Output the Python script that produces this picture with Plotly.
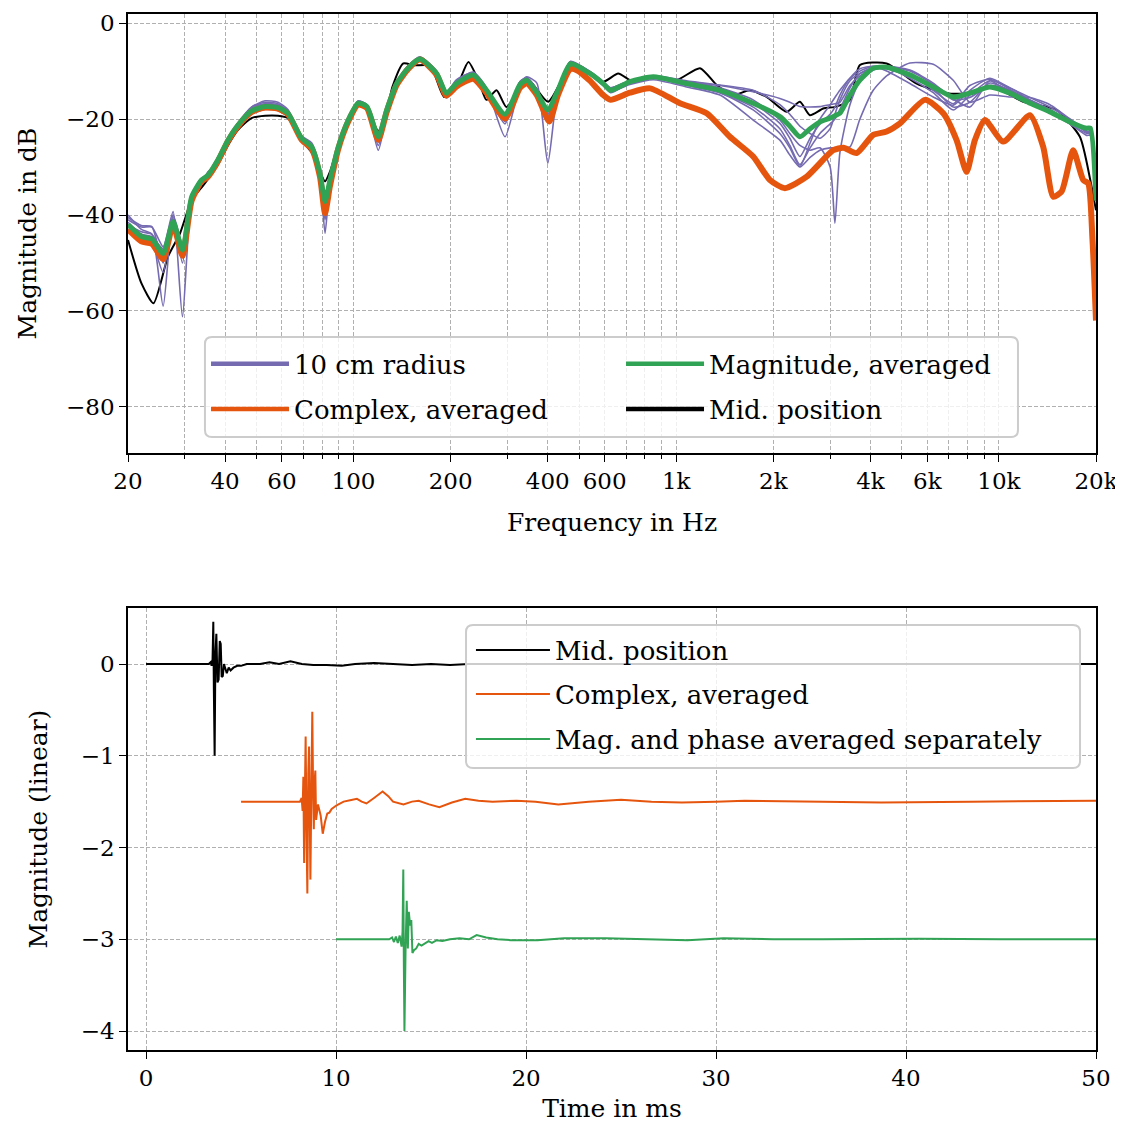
import math
import plotly.graph_objects as go

# ---------------- Top panel: frequency responses ----------------
freq_grid = [20, 22, 23.7, 25.7, 27.6, 29.5, 31.5, 33.8, 35.4, 38,
             40.8, 43.8, 48.3, 53.2, 58.3, 62.6, 69, 74.2, 78.7, 81.6,
             84.5, 89.7, 96.3, 103.4, 110, 119.3, 126.7, 136, 148, 160.7,
             181, 194, 208.6, 235, 258.6, 294.7, 328, 344, 370, 400,
             430, 470, 540, 594, 626, 719, 849, 1077, 1366, 1732,
             2096, 2250, 2418, 2600, 2789, 3000, 3104, 3216, 3455, 3710,
             4080, 4488, 5300, 6260, 7220, 8132, 9380, 10820, 12484, 14392,
             16600, 18700, 19200, 20000]

mag_avg_db = [-42, -44.5, -45, -48, -41.4, -47.3, -36.2, -32.7, -31.7, -28.5,
              -24.4, -21.3, -18.3, -17.4, -17.6, -18.8, -24, -25.8, -31.3, -37.2,
              -32.7, -25.8, -20.2, -16.7, -17.4, -23.7, -18.1, -12.6, -9.3, -7.5,
              -10.5, -14.6, -12.6, -10.8, -14, -19, -12.8, -11.9, -14.5, -18.1,
              -14, -8.5, -10.5, -12.6, -14, -12.2, -11.2, -12.6, -14, -16.7,
              -19.5, -21.5, -23.7, -22, -20.6, -19.8, -19.3, -18.8, -15, -11.9,
              -9.4, -9.2, -10.8, -13.3, -15.4, -14.6, -13.3, -14.6, -16.7, -18.5,
              -20.6, -21.9, -21.9, -37]

radius_1_db = [-40, -43, -44, -59, -40, -46, -36, -32.5, -31.5, -28,
               -24, -20.8, -17.5, -16.5, -16.8, -18.3, -23.8, -25.5, -31, -38.5,
               -33, -25.5, -20, -16.2, -17, -24.5, -18, -12.3, -9, -7.2,
               -10.3, -15, -12.2, -10.5, -14, -19.5, -12.3, -11.5, -14, -18.5,
               -13.5, -8.2, -10.2, -12.3, -13.5, -12, -11, -12, -13, -14.3,
               -15.7, -16.5, -17.4, -17.5, -17.4, -17, -16.8, -16.5, -13, -11,
               -9.5, -9, -9.8, -12.5, -15.8, -17.5, -12, -13.5, -16, -18,
               -20.5, -22.5, -22.8, -37]
radius_2_db = [-41, -42.5, -42.5, -46.6, -39.3, -61.2, -37, -33, -32, -28.8,
               -24.8, -21, -17.8, -16.8, -17, -18.5, -24, -25.8, -31.5, -40.5,
               -34, -26, -20.3, -16.5, -17.2, -25.5, -18.5, -12.8, -9.3, -7.3,
               -10.2, -14.8, -12.4, -10.6, -13.8, -20.5, -12.5, -11.6, -14.4, -19.5,
               -14.2, -8.3, -10.5, -13, -14.5, -12.5, -11.5, -13, -14.5, -18.1,
               -23, -26, -29.9, -25, -20, -17, -15.5, -14, -11.5, -10,
               -9, -9.3, -11.5, -14.5, -18.1, -15, -12, -14.5, -16.5, -18.7,
               -21, -23, -23, -37]
radius_3_db = [-43, -45.5, -46, -48, -42, -47.6, -36.5, -33, -32.5, -29,
               -25, -22, -19, -18, -18.2, -19.5, -24.6, -26.5, -32, -43.8,
               -33.5, -27, -20.8, -17, -17.8, -26.5, -19, -12.9, -9.3, -7.4,
               -10.6, -15.6, -12.8, -11, -14.3, -21, -12.6, -11.9, -14.8, -20.5,
               -14.5, -8.2, -10, -12.2, -13.5, -12, -11.2, -12.5, -14, -16.7,
               -20.9, -24, -27.8, -24, -21, -19, -17.5, -15, -11.5, -9.5,
               -9, -10, -12.6, -15.4, -17.1, -14, -11.5, -13.5, -15.5, -17.5,
               -20, -22, -22, -37]
radius_4_db = [-42, -43.5, -44, -47.5, -41, -48, -36, -32.5, -31.8, -28.5,
               -24.5, -21.5, -18.8, -17.8, -18, -19, -24.2, -26, -31.5, -39,
               -35, -26.5, -20.5, -16.9, -17.6, -24, -18.3, -12.7, -9.4, -7.5,
               -10.4, -14.3, -12, -10.2, -13.5, -23.7, -13, -11.2, -12.5, -29.2,
               -14, -8.3, -10.3, -12.5, -14, -12, -11, -12.3, -12.9, -14,
               -17, -19, -21.5, -23, -24, -22, -19, -16, -12, -10.5,
               -9.5, -9.5, -11, -13.5, -17.5, -16.5, -12.5, -14, -16, -18,
               -20.8, -22.5, -23.2, -37]
radius_5_db = [-41.5, -44, -44.5, -47, -41, -47, -36, -32.4, -31.4, -28.2,
               -24.2, -21, -17.8, -16.8, -17.2, -18.5, -23.8, -25.5, -31, -40.5,
               -33, -25.5, -20, -16.4, -17.2, -24.8, -18, -12.4, -9, -7.2,
               -10.4, -15.2, -12.4, -10.4, -13.8, -20, -12.2, -11.3, -13.8, -19,
               -14, -8, -10.2, -12.8, -14.3, -12.4, -11.4, -12.2, -13.5, -16,
               -20.2, -23, -25.5, -26.5, -26, -30, -41.7, -27, -17, -12,
               -9.8, -9, -10, -12.8, -16, -15.5, -13, -14, -16.2, -18.3,
               -20.3, -22, -22.5, -37]
radius_6_db = [-40.5, -42.2, -42.4, -50, -40, -48.5, -37, -33.5, -31, -29,
               -25, -21.3, -17.5, -16.2, -16.5, -18, -23.5, -25, -30.5, -37,
               -33.5, -25.8, -20, -16.3, -17, -23.5, -17.8, -12.2, -8.8, -7,
               -10, -14.5, -11.8, -10.3, -13.7, -19.2, -12.2, -11.5, -14, -18,
               -13.5, -8, -10.8, -13, -14.2, -12.8, -11.8, -13.3, -15, -20.2,
               -24.4, -27.5, -30, -28, -26.5, -26, -26, -26, -25.8, -20,
               -14, -11, -8.3, -8.6, -11.9, -16.5, -15, -15.4, -15.5, -17,
               -20, -22.8, -23, -37]
radius_7_db = [-42.5, -44, -45.5, -52, -40.5, -50, -36.5, -33, -32, -28.7,
               -24.5, -21.5, -18.5, -17.5, -17.7, -19, -24, -26, -31.5, -41,
               -35, -26, -20.3, -16.7, -17.5, -24.2, -18.2, -12.6, -9.2, -7.4,
               -10.6, -14.9, -12.7, -11, -14.2, -19.5, -13, -12.2, -14.6, -19,
               -14.2, -8.6, -10.6, -12.5, -13.8, -12.2, -11.3, -12.8, -14.5, -17.5,
               -22, -25.5, -29.5, -26, -23, -21, -20, -18, -13.5, -10.5,
               -9.2, -9.1, -10.5, -14, -16.8, -13, -11.7, -13.8, -16.5, -18.4,
               -21, -23.4, -23.4, -37]

freq_mid = [20, 22, 24, 26.6, 29, 31.5, 34.6, 38, 40.8, 43.8,
            48.3, 53.2, 58.3, 62.6, 69, 74.2, 78.7, 81.6, 84.5, 89.7,
            96.3, 103.4, 110, 119.3, 126.7, 132, 142.7, 154, 173, 191,
            208.6, 227, 246, 258, 277.6, 298, 344, 401, 478, 594,
            661, 736, 849, 1001, 1185, 1335, 1502, 1692, 1906, 2199,
            2418, 2596, 2856, 3135, 3455, 3710, 4488, 5560, 6887, 7943,
            9604, 11900, 15100, 17825, 19200, 20000]
mid_db = [-45.2, -54.2, -58.4, -48.7, -43.8, -36.9, -33.4, -29.5, -25.5, -22.3,
          -19.8, -19.3, -19.3, -19.8, -24.5, -27, -31, -33, -31, -25.5,
          -20.5, -16.8, -17.8, -22.5, -18.5, -13.3, -8.4, -8.8, -8.9, -15.4,
          -13.3, -8.1, -12.6, -16, -14, -17.5, -11.5, -16.4, -8.4, -12.2,
          -10.5, -12.2, -11.2, -11.9, -9.4, -12.9, -15, -14, -15.4, -18.5,
          -16.4, -19.2, -17.8, -17.4, -16, -8.75, -8.4, -12.6, -14.6, -14.6,
          -13.3, -16.4, -18.1, -23.7, -32.7, -39]

freq_cplx = [20, 22, 23.7, 25.7, 27.6, 29.5, 31.5, 33.8, 35.4, 38,
             40.8, 43.8, 48.3, 53.2, 58.3, 62.6, 69, 74.2, 78.7, 81.6,
             84.5, 89.7, 96.3, 103.4, 110, 119.3, 126.7, 136, 148, 160.7,
             181, 194, 208.6, 235, 258.6, 294.7, 328, 344, 370, 404,
             430, 470, 492, 540, 594, 626, 719, 830, 1027, 1243,
             1467, 1732, 1952, 2172, 2538, 3066, 3300, 3624, 4080, 4488,
             4938, 5900, 6724, 7396, 7943, 8428, 9052, 10316, 12484, 13722,
             14742, 15650, 16996, 18254, 18916, 19500, 20000]
cplx_db = [-43, -45.5, -46, -49.2, -42, -48.5, -37, -33, -32, -28.8,
           -24.6, -21.5, -18.5, -17.6, -17.8, -19, -24.3, -26.2, -32, -39.6,
           -34, -26.2, -20.5, -17, -17.7, -24.3, -18.5, -12.9, -9.5, -7.6,
           -10.8, -15.1, -13.2, -11.6, -14.6, -19.9, -13.5, -12.5, -15, -20.5,
           -15, -9.6, -9.8, -12, -15, -16, -14.5, -13.6, -16.7, -18.8,
           -23.7, -27.8, -32.7, -34.4, -32, -26.5, -26, -27.1, -23.3, -22.6,
           -20.9, -16, -18.8, -24.4, -31, -24.4, -20.2, -24.7, -19.2, -25.8,
           -36.2, -35.1, -26.5, -32.7, -33.4, -45, -62]

freq_ticks = [20, 40, 60, 100, 200, 400, 600, 1000, 2000, 4000, 6000, 10000, 20000]
freq_labels = ["20", "40", "60", "100", "200", "400", "600", "1k", "2k", "4k", "6k", "10k", "20k"]
freq_minor = [30, 50, 70, 80, 90, 300, 500, 700, 800, 900,
              3000, 5000, 7000, 8000, 9000]
db_ticks = [0, -20, -40, -60, -80]
db_labels = ["0", "\u221220", "\u221240", "\u221260", "\u221280"]

# ---------------- Bottom panel: impulse responses ----------------
t_mid = [0, 3.3, 3.4, 3.45, 3.5, 3.54, 3.57, 3.61, 3.65, 3.7,
         3.76, 3.82, 3.88, 3.93, 3.98, 4.04, 4.1, 4.16, 4.25, 4.35,
         4.45, 4.6, 4.8, 5.0, 5.3, 6.0, 6.5, 7.0, 7.6, 8.2,
         8.8, 9.5, 10.3, 11, 12, 13, 14, 15, 16, 17,
         20, 30, 40, 50]
ir_mid = [0, 0, 0.02, -0.02, 0.05, 0.46, -0.3, -1.0, 0.1, 0.33,
          -0.2, -0.17, 0.25, 0.22, -0.14, -0.13, 0.0, -0.04, -0.1, -0.04,
          -0.07, -0.04, -0.02, -0.02, 0.0, 0.0, 0.02, 0.0, 0.03, 0.0,
          -0.01, -0.01, -0.02, 0.0, 0.01, 0.0, -0.01, 0.0, -0.01, 0.0,
          0.0, 0.0, 0.0, 0.0]

t_cplx = [5, 8.1, 8.19, 8.24, 8.28, 8.32, 8.36, 8.4, 8.45, 8.49,
          8.54, 8.58, 8.62, 8.65, 8.7, 8.75, 8.79, 8.83, 8.87, 8.91,
          8.95, 8.98, 9.05, 9.19, 9.3, 9.42, 9.54, 9.65, 9.77, 10.03,
          10.4, 10.74, 11.1, 11.35, 11.6, 12.0, 12.45, 12.75, 13.0, 13.55,
          14.0, 14.35, 14.9, 15.44, 16.1, 16.8, 17.5, 18.24, 19.5, 20.5,
          21.7, 23.3, 25, 26.6, 28.2, 30, 31.5, 35.6, 38.7, 43.4,
          50]
ir_cplx = [-1.5, -1.5, -1.46, -1.6, -1.23, -2.17, -1.4, -0.79, -1.9, -2.5,
           -1.2, -0.9, -1.7, -2.35, -1.4, -0.52, -1.3, -1.8, -1.3, -1.16,
           -1.7, -1.62, -1.53, -1.65, -1.85, -1.72, -1.63, -1.62, -1.58, -1.54,
           -1.5, -1.485, -1.47, -1.5, -1.52, -1.46, -1.39, -1.44, -1.5, -1.53,
           -1.5, -1.49, -1.53, -1.56, -1.51, -1.47, -1.49, -1.5, -1.49, -1.5,
           -1.53, -1.5, -1.48, -1.5, -1.51, -1.5, -1.49, -1.5, -1.51, -1.5,
           -1.49]

t_sep = [10, 12.8, 12.95, 13.05, 13.15, 13.25, 13.35, 13.45, 13.5, 13.54,
         13.57, 13.6, 13.66, 13.72, 13.78, 13.83, 13.9, 13.96, 14.02, 14.1,
         14.22, 14.35, 14.5, 14.7, 14.87, 15.05, 15.3, 15.6, 16, 16.5,
         17, 17.4, 17.9, 18.5, 19.2, 20.6, 22, 24.2, 26.5, 28.5,
         30.4, 33, 35.6, 40.7, 45, 50]
ir_sep = [-3, -3, -2.98, -3.03, -2.97, -3.04, -2.96, -3.08, -2.92, -2.24,
          -3.3, -4.0, -3.1, -2.58, -3.1, -2.7, -2.85, -2.79, -3.15, -3.12,
          -3.1, -3.05, -3.07, -3.04, -3.02, -3.04, -3.01, -3.02, -3.0, -2.99,
          -3.0, -2.955, -2.98, -3.0, -3.01, -3.01, -2.99, -2.99, -3.0, -3.01,
          -2.99, -3.0, -3.0, -2.995, -3.0, -3.0]

time_ticks = [0, 10, 20, 30, 40, 50]
lin_ticks = [0, -1, -2, -3, -4]
lin_labels = ["0", "\u22121", "\u22122", "\u22123", "\u22124"]

# ---------------- Styling ----------------
PURPLE = "#756bb1"
ORANGE = "#e6550d"
GREEN = "#31a354"
BLACK = "#000000"
FONT = "DejaVu Serif"
TICK_SIZE = 23
TITLE_SIZE = 25
LEGEND_SIZE = 26
GRID = "#b0b0b0"
DASH = "4px,2px"

fig = go.Figure()

# top panel curves
fig.add_trace(go.Scatter(x=freq_mid, y=mid_db, mode="lines", xaxis="x", yaxis="y",
                         line=dict(color=BLACK, width=2, shape="spline", smoothing=0.6),
                         showlegend=False, hoverinfo="skip"))
for curve in [radius_1_db, radius_2_db, radius_3_db, radius_4_db,
              radius_5_db, radius_6_db, radius_7_db]:
    fig.add_trace(go.Scatter(x=freq_grid, y=curve, mode="lines", xaxis="x", yaxis="y",
                             line=dict(color=PURPLE, width=1.6, shape="spline", smoothing=0.6),
                             showlegend=False, hoverinfo="skip"))
fig.add_trace(go.Scatter(x=freq_cplx, y=cplx_db, mode="lines", xaxis="x", yaxis="y",
                         line=dict(color=ORANGE, width=6, shape="spline", smoothing=0.6),
                         showlegend=False, hoverinfo="skip"))
fig.add_trace(go.Scatter(x=freq_grid, y=mag_avg_db, mode="lines", xaxis="x", yaxis="y",
                         line=dict(color=GREEN, width=5, shape="spline", smoothing=0.6),
                         showlegend=False, hoverinfo="skip"))

# legend entries for the top panel (two rows, two columns)
for name, color, leg, rank in [("10 cm radius", PURPLE, "legend", 1),
                               ("Magnitude, averaged", GREEN, "legend", 2),
                               ("Complex, averaged", ORANGE, "legend2", 1),
                               ("Mid. position", BLACK, "legend2", 2)]:
    fig.add_trace(go.Scatter(x=[None], y=[None], mode="lines", xaxis="x", yaxis="y",
                             line=dict(color=color, width=4.5), name=name,
                             legend=leg, legendrank=rank))

# bottom panel curves
fig.add_trace(go.Scatter(x=t_mid, y=ir_mid, mode="lines", xaxis="x2", yaxis="y2",
                         line=dict(color=BLACK, width=2), name="Mid. position",
                         legend="legend3"))
fig.add_trace(go.Scatter(x=t_cplx, y=ir_cplx, mode="lines", xaxis="x2", yaxis="y2",
                         line=dict(color=ORANGE, width=2), name="Complex, averaged",
                         legend="legend4"))
fig.add_trace(go.Scatter(x=t_sep, y=ir_sep, mode="lines", xaxis="x2", yaxis="y2",
                         line=dict(color=GREEN, width=2), name="Mag. and phase averaged separately",
                         legend="legend5"))

axis_common = dict(showline=True, linecolor="black", linewidth=1.5, mirror=True,
                   ticks="outside", ticklen=7, tickwidth=1.3, tickcolor="black",
                   zeroline=False, showgrid=True, gridcolor=GRID, gridwidth=1, griddash=DASH,
                   automargin=False, ticklabeloverflow="allow",
                   tickfont=dict(family=FONT, size=TICK_SIZE, color="black"))


def legend_row(x, y, horizontal, itemwidth):
    d = dict(x=x, y=y, xanchor="left", yanchor="middle",
             bgcolor="rgba(0,0,0,0)", borderwidth=0, itemwidth=itemwidth,
             font=dict(family=FONT, size=LEGEND_SIZE, color="black"))
    if horizontal:
        d.update(orientation="h", entrywidth=322)
    return d


def rounded_box(x0, y0, x1, y1, r_px=7):
    rx = r_px / 968.0
    ry = r_px / 1036.0
    path = (f"M {x0 + rx},{y0} L {x1 - rx},{y0} Q {x1},{y0} {x1},{y0 + ry} "
            f"L {x1},{y1 - ry} Q {x1},{y1} {x1 - rx},{y1} L {x0 + rx},{y1} "
            f"Q {x0},{y1} {x0},{y1 - ry} L {x0},{y0 + ry} Q {x0},{y0} {x0 + rx},{y0} Z")
    return dict(type="path", path=path, xref="paper", yref="paper", layer="above",
                fillcolor="rgba(255,255,255,0.8)", line=dict(color="#cccccc", width=2))


fig.update_layout(
    width=1115, height=1115,
    margin=dict(l=120, r=27, t=6, b=73),
    plot_bgcolor="white", paper_bgcolor="white",
    font=dict(family=FONT, size=TITLE_SIZE, color="black"),
    xaxis=dict(type="log", range=[math.log10(20), math.log10(20000)], domain=[0, 1], anchor="y",
               tickmode="array", tickvals=freq_ticks, ticktext=freq_labels,
               minor=dict(tickmode="array", tickvals=freq_minor, ticks="outside", ticklen=4,
                          tickcolor="black", showgrid=True, gridcolor=GRID, gridwidth=1, griddash=DASH),
               title=dict(text="Frequency in Hz", font=dict(family=FONT, size=TITLE_SIZE), standoff=20),
               **axis_common),
    yaxis=dict(range=[-89.6, 1.9], domain=[0.5763, 1.0], anchor="x",
               tickmode="array", tickvals=db_ticks, ticktext=db_labels,
               title=dict(text="Magnitude in dB", font=dict(family=FONT, size=TITLE_SIZE), standoff=22),
               **axis_common),
    xaxis2=dict(range=[-0.95, 50], domain=[0, 1], anchor="y2",
                tickmode="array", tickvals=time_ticks,
                title=dict(text="Time in ms", font=dict(family=FONT, size=TITLE_SIZE), standoff=22),
                **axis_common),
    yaxis2=dict(range=[-4.207, 0.61], domain=[0, 0.4266], anchor="x2",
                tickmode="array", tickvals=lin_ticks, ticktext=lin_labels,
                title=dict(text="Magnitude (linear)", font=dict(family=FONT, size=TITLE_SIZE), standoff=26),
                **axis_common),
    shapes=[rounded_box(0.0795, 0.5917, 0.9194, 0.6882),
            rounded_box(0.3492, 0.2722, 0.9835, 0.4102)],
    legend=legend_row(0.0806, 0.6622, True, 78),
    legend2=legend_row(0.0806, 0.6187, True, 78),
    legend3=legend_row(0.3543, 0.3861, False, 74),
    legend4=legend_row(0.3543, 0.3436, False, 74),
    legend5=legend_row(0.3543, 0.3002, False, 74),
)

fig.write_html("out.html")
